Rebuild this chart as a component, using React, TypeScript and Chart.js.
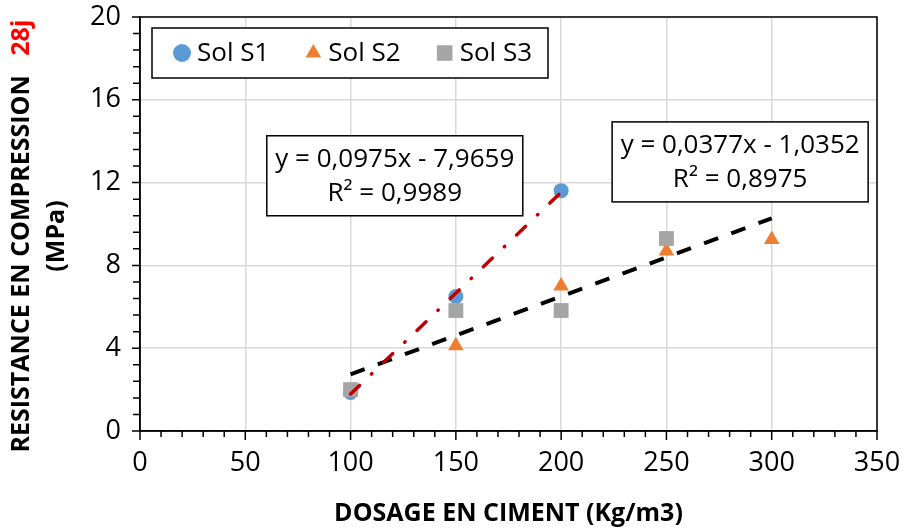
import React, { useEffect, useRef } from 'react';
import { Chart, registerables } from 'chart.js';

Chart.register(...registerables);

// ---- data ----
const seriesNames = ['Sol S1', 'Sol S2', 'Sol S3'];
const s1X = [100, 150, 200];
const s1Y = [1.86, 6.5, 11.61];
const s2X = [150, 200, 250, 300];
const s2Y = [4.12, 7.0, 8.7, 9.25];
const s3X = [100, 150, 200, 250];
const s3Y = [2.0, 5.82, 5.82, 9.3];

// trendlines (coefficients as printed on the chart)
const trendSlopes = [0.0975, 0.0377];
const trendIntercepts = [-7.9659, -1.0352];
const trendR2 = [0.9989, 0.8975];
const trendFrom = [100, 100];
const trendTo = [200, 300];
// label anchors in data units (centre of each equation box)
const trendLabelX = [121, 285];
const trendLabelY = [12.33, 13.0];

const xTickValues = [0, 50, 100, 150, 200, 250, 300, 350];
const yTickValues = [0, 4, 8, 12, 16, 20];

const xTitle = 'DOSAGE EN CIMENT (Kg/m3)';
const yTitleMain = 'RESISTANCE EN COMPRESSION';
const yTitleRed = '28j';
const yTitleLine2 = '(MPa)';

// ---- styles ----
const FONT = "'Open Sans', sans-serif";
const seriesColors = ['#5B9BD5', '#ED7D31', '#A5A5A5'];
const pointStyles = ['circle', 'triangle', 'rect'];
const pointRadii = [7.5, 9, 10.5];
const trendColors = ['#C00000', '#000000'];
const trendDashes = [[12.5, 16.5, 0.5, 16.5], [15, 14]];
const trendCaps = ['round', 'butt'];
const trendWidths = [3.5, 4];

const fmt = (v: number) => Math.abs(v).toFixed(4).replace('.', ',');
const eqText = (i: number) =>
  `y = ${fmt(trendSlopes[i])}x ${trendIntercepts[i] < 0 ? '-' : '+'} ${fmt(trendIntercepts[i])}`;
const r2Text = (i: number) => `R² = ${fmt(trendR2[i])}`;

function drawMarker(ctx: CanvasRenderingContext2D, style: string, x: number, y: number, r: number, color: string) {
  ctx.save();
  ctx.fillStyle = color;
  ctx.beginPath();
  if (style === 'circle') {
    ctx.arc(x, y, r, 0, Math.PI * 2);
  } else if (style === 'triangle') {
    ctx.moveTo(x, y - r);
    ctx.lineTo(x + r * Math.sin(Math.PI * 2 / 3), y - r * Math.cos(Math.PI * 2 / 3));
    ctx.lineTo(x + r * Math.sin(Math.PI * 4 / 3), y - r * Math.cos(Math.PI * 4 / 3));
    ctx.closePath();
  } else {
    const s = Math.SQRT1_2 * r;
    ctx.rect(x - s, y - s, 2 * s, 2 * s);
  }
  ctx.fill();
  ctx.restore();
}

const decorPlugin = {
  id: 'decor',
  afterDraw(chart: any) {
    const { ctx, chartArea: a, scales } = chart;
    const xs = scales.x;
    const ys = scales.y;
    ctx.save();

    // frame
    ctx.strokeStyle = '#000';
    ctx.lineWidth = 1.5;
    ctx.strokeRect(a.left, a.top, a.right - a.left, a.bottom - a.top);

    // tick marks (major + minor)
    ctx.beginPath();
    for (let i = 0; i < xTickValues.length; i++) {
      const v = xTickValues[i];
      const px = xs.getPixelForValue(v);
      ctx.moveTo(px, a.bottom);
      ctx.lineTo(px, a.bottom + 9);
      if (i < xTickValues.length - 1) {
        const step = (xTickValues[i + 1] - v) / 5;
        for (let k = 1; k < 5; k++) {
          const pm = xs.getPixelForValue(v + k * step);
          ctx.moveTo(pm, a.bottom);
          ctx.lineTo(pm, a.bottom + 6);
        }
      }
    }
    for (let i = 0; i < yTickValues.length; i++) {
      const v = yTickValues[i];
      const py = ys.getPixelForValue(v);
      ctx.moveTo(a.left, py);
      ctx.lineTo(a.left - 8, py);
      if (i < yTickValues.length - 1) {
        const step = (yTickValues[i + 1] - v) / 5;
        for (let k = 1; k < 5; k++) {
          const pm = ys.getPixelForValue(v + k * step);
          ctx.moveTo(a.left, pm);
          ctx.lineTo(a.left - 7, pm);
        }
      }
    }
    ctx.stroke();

    // legend
    const lx = a.left + 12;
    const ly = a.top + 11;
    const lw = 396;
    const lh = 50;
    ctx.fillStyle = '#fff';
    ctx.fillRect(lx, ly, lw, lh);
    ctx.strokeRect(lx, ly, lw, lh);
    ctx.font = `26px ${FONT}`;
    ctx.textBaseline = 'middle';
    ctx.textAlign = 'left';
    const widths = seriesNames.map((n) => ctx.measureText(n).width);
    const total = widths.reduce((s, w) => s + 23 + w, 0) + 36 * (seriesNames.length - 1);
    let cur = lx + lw / 2 - total / 2 + 3;
    const cy = ly + lh / 2;
    seriesNames.forEach((n, i) => {
      drawMarker(ctx, pointStyles[i], cur + 8, cy, i === 2 ? 11 : 9, seriesColors[i]);
      ctx.fillStyle = '#000';
      ctx.fillText(n, cur + 23, cy + 1);
      cur += 23 + widths[i] + 36;
    });

    // equation boxes
    ctx.font = `26px ${FONT}`;
    ctx.textAlign = 'center';
    for (let i = 0; i < trendSlopes.length; i++) {
      const t1 = eqText(i);
      const t2 = r2Text(i);
      const w = Math.max(ctx.measureText(t1).width, ctx.measureText(t2).width) + 17;
      const h = 80;
      const cx = xs.getPixelForValue(trendLabelX[i]);
      const cyy = ys.getPixelForValue(trendLabelY[i]);
      ctx.fillStyle = '#fff';
      ctx.fillRect(cx - w / 2, cyy - h / 2, w, h);
      ctx.strokeStyle = '#000';
      ctx.lineWidth = 1.5;
      ctx.strokeRect(cx - w / 2, cyy - h / 2, w, h);
      ctx.fillStyle = '#000';
      ctx.fillText(t1, cx, cyy - 16);
      ctx.fillText(t2, cx, cyy + 18);
    }

    // x title
    ctx.font = `bold 25px ${FONT}`;
    ctx.textAlign = 'center';
    ctx.fillStyle = '#000';
    ctx.fillText(xTitle, (a.left + a.right) / 2, a.bottom + 83);

    // y title (rotated)
    const yc = (a.top + a.bottom) / 2 + 12;
    ctx.save();
    ctx.translate(22, yc);
    ctx.rotate(-Math.PI / 2);
    const redPart = '   ' + yTitleRed;
    const w1 = ctx.measureText(yTitleMain).width;
    const w2 = ctx.measureText(redPart).width;
    ctx.textAlign = 'left';
    ctx.fillStyle = '#000';
    ctx.fillText(yTitleMain, -(w1 + w2) / 2, 0);
    ctx.fillStyle = '#FF0000';
    ctx.fillText(redPart, -(w1 + w2) / 2 + w1, 0);
    ctx.restore();
    ctx.save();
    ctx.translate(57, yc);
    ctx.rotate(-Math.PI / 2);
    ctx.textAlign = 'center';
    ctx.fillStyle = '#000';
    ctx.fillText(yTitleLine2, 0, 0);
    ctx.restore();

    ctx.restore();
  },
};

export default function App() {
  const ref = useRef<HTMLCanvasElement>(null);

  useEffect(() => {
    const seriesX = [s1X, s2X, s3X];
    const seriesY = [s1Y, s2Y, s3Y];
    const scatterSets = seriesNames.map((name, i) => ({
      label: name,
      data: seriesX[i].map((x, j) => ({ x, y: seriesY[i][j] })),
      backgroundColor: seriesColors[i],
      borderColor: seriesColors[i],
      borderWidth: 0,
      pointStyle: pointStyles[i],
      pointRadius: pointRadii[i],
      pointBorderWidth: 0,
      showLine: false,
      order: 4 - i,
    }));
    const trendSets = trendSlopes.map((m, i) => ({
      label: 'trend' + i,
      data: [trendFrom[i], trendTo[i]].map((x) => ({ x, y: m * x + trendIntercepts[i] })),
      borderColor: trendColors[i],
      backgroundColor: trendColors[i],
      borderWidth: trendWidths[i],
      borderDash: trendDashes[i],
      borderCapStyle: trendCaps[i],
      pointRadius: 0,
      showLine: true,
      fill: false,
      order: i,
    }));

    const chart = new Chart(ref.current!, {
      type: 'scatter',
      data: { datasets: [...scatterSets, ...trendSets] as any },
      options: {
        animation: false,
        responsive: true,
        maintainAspectRatio: false,
        layout: { padding: { top: 17, right: 27, left: 0, bottom: 0 } },
        plugins: { legend: { display: false }, tooltip: { enabled: false } },
        scales: {
          x: {
            type: 'linear',
            min: 0,
            max: 350,
            afterBuildTicks: (s: any) => {
              s.ticks = xTickValues.map((v) => ({ value: v }));
            },
            afterFit: (s: any) => {
              s.height = 98;
              s.paddingLeft = 0;
              s.paddingRight = 0;
            },
            ticks: { font: { family: FONT, size: 27 }, color: '#000', padding: 16, maxRotation: 0 },
            grid: { color: '#d9d9d9', lineWidth: 1.5, drawTicks: false },
            border: { display: true, color: '#000', width: 1.5 },
          },
          y: {
            type: 'linear',
            min: 0,
            max: 20,
            afterBuildTicks: (s: any) => {
              s.ticks = yTickValues.map((v) => ({ value: v }));
            },
            afterFit: (s: any) => {
              s.width = 140;
              s.paddingTop = 0;
              s.paddingBottom = 0;
            },
            ticks: { font: { family: FONT, size: 27 }, color: '#000', padding: 19 },
            grid: { color: '#d9d9d9', lineWidth: 1.5, drawTicks: false },
            border: { display: true, color: '#000', width: 1.5 },
          },
        },
      },
      plugins: [decorPlugin],
    });
    return () => chart.destroy();
  }, []);

  return (
    <div style={{ position: 'fixed', left: 0, top: 0, width: 904, height: 529, background: '#fff' }}>
      <canvas ref={ref} />
    </div>
  );
}
